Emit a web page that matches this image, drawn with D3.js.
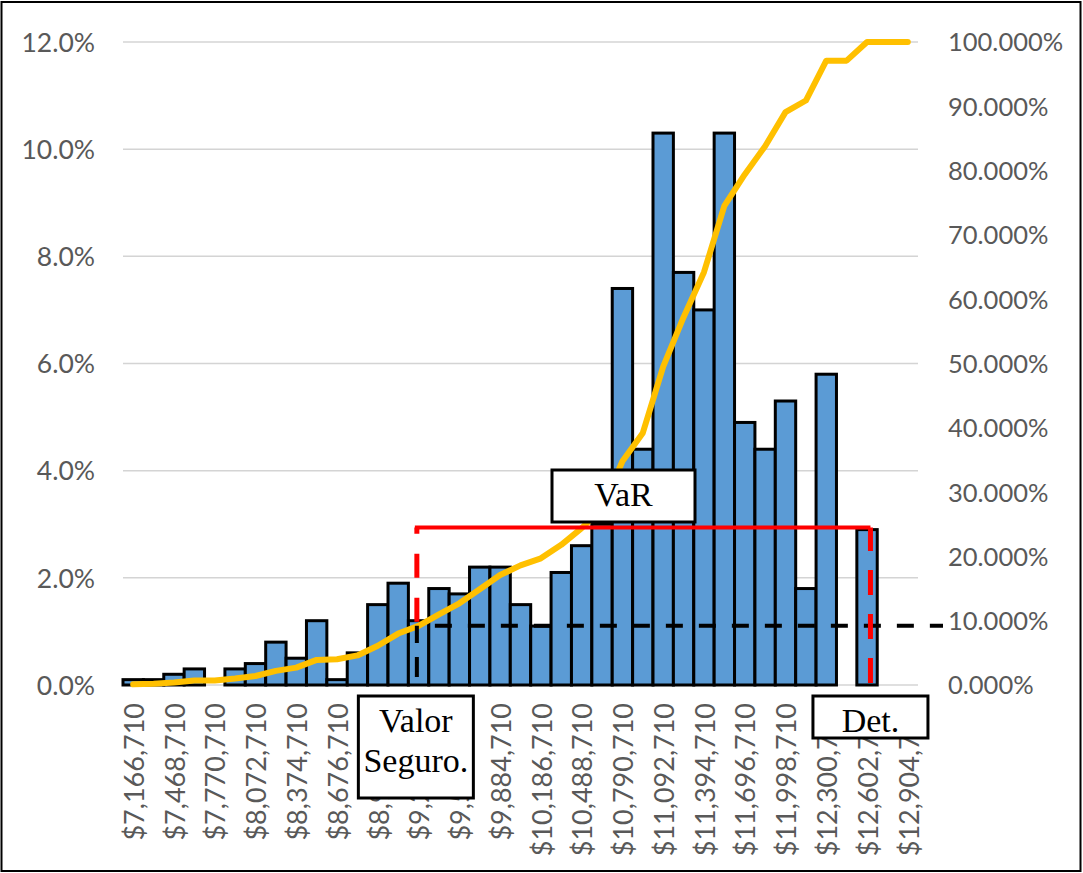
<!DOCTYPE html>
<html>
<head>
<meta charset="utf-8">
<script src="https://cdn.jsdelivr.net/npm/d3@7"></script>
<style>
  html, body { margin: 0; padding: 0; background: #fff; }
  svg { display: block; }
  .tick text { fill: #595959; font-family: Lato, "Open Sans", sans-serif; }
  .box-text { font-family: "Liberation Serif", "Times New Roman", serif; fill: #000; }
</style>
</head>
<body>
<svg id="chart" width="1083" height="873"></svg>
<script>
// Bin values (lower bounds, USD)
const categories = [
  7166710, 7317710, 7468710, 7619710, 7770710, 7921710, 8072710, 8223710,
  8374710, 8525710, 8676710, 8827710, 8978710, 9129710, 9280710, 9431710,
  9582710, 9733710, 9884710, 10035710, 10186710, 10337710, 10488710, 10639710,
  10790710, 10941710, 11092710, 11243710, 11394710, 11545710, 11696710, 11847710,
  11998710, 12149710, 12300710, 12451710, 12602710, 12753710, 12904710
];

// Relative frequency per bin (%)
const frequency = [
  0.1, 0.1, 0.2, 0.3, 0, 0.3, 0.4, 0.8,
  0.5, 1.2, 0.1, 0.6, 1.5, 1.9, 1.2, 1.8,
  1.7, 2.2, 2.2, 1.5, 1.1, 2.1, 2.6, 3.0,
  7.4, 4.4, 10.3, 7.7, 7.0, 10.3, 4.9, 4.4,
  5.3, 1.8, 5.8, 0, 2.9, 0, 0
];

// Cumulative frequency (%)
const cumulative = [
  0.1, 0.2, 0.4, 0.7, 0.7, 1.0, 1.4, 2.2,
  2.7, 3.9, 4.0, 4.6, 6.1, 8.0, 9.2, 11.0,
  12.7, 14.9, 17.1, 18.6, 19.7, 21.8, 24.4, 27.4,
  34.8, 39.2, 49.5, 57.2, 64.2, 74.5, 79.4, 83.8,
  89.1, 90.9, 97.1, 97.1, 100, 100, 100
];

// Axis ticks
const leftTicks = [0, 2, 4, 6, 8, 10, 12];
const rightTicks = [0, 10, 20, 30, 40, 50, 60, 70, 80, 90, 100];
const xTickValues = categories.filter((d, i) => i % 2 === 0);

// Reference markers
const valorSeguro = 9268000;      // insured value
const deterministic = 12628000;   // deterministic value
const varLevel = 2.94;            // VaR level (left axis, %)
const cumAtValorSeguro = 9.2;     // cumulative % at insured value (right axis)

const svg = d3.select("#chart");
const W = 1083, H = 873;
const plot = { left: 123, right: 918, top: 42, bottom: 685 };
const step = categories[1] - categories[0];

const x = d3.scaleBand().domain(categories).range([plot.left, plot.right]).padding(0);
const xVal = d3.scaleLinear()
  .domain([categories[0] - step / 2, categories[categories.length - 1] + step / 2])
  .range([plot.left, plot.right]);
const yL = d3.scaleLinear().domain([0, 12]).range([plot.bottom, plot.top]);
const yR = d3.scaleLinear().domain([0, 100]).range([plot.bottom, plot.top]);

// Outer frame
svg.append("rect")
  .attr("x", 1.5).attr("y", 2).attr("width", W - 4).attr("height", H - 4)
  .attr("fill", "#fff").attr("stroke", "#000").attr("stroke-width", 2);

// Gridlines
svg.append("g")
  .selectAll("line")
  .data(leftTicks)
  .join("line")
  .attr("x1", plot.left).attr("x2", plot.right)
  .attr("y1", d => yL(d)).attr("y2", d => yL(d))
  .attr("stroke", "#d4d4d4").attr("stroke-width", 1.5);

// Left axis
const leftAxis = svg.append("g")
  .attr("transform", `translate(${plot.left - 28},0)`)
  .call(d3.axisLeft(yL).tickValues(leftTicks).tickSize(0).tickPadding(0)
    .tickFormat(d => d.toFixed(1) + "%"));
leftAxis.select(".domain").remove();
leftAxis.selectAll("text").attr("font-size", 26.5).attr("dy", "0.35em");

// Right axis
const rightAxis = svg.append("g")
  .attr("transform", `translate(${plot.right + 30},0)`)
  .call(d3.axisRight(yR).tickValues(rightTicks).tickSize(0).tickPadding(0)
    .tickFormat(d => d.toFixed(3) + "%"));
rightAxis.select(".domain").remove();
rightAxis.selectAll("text").attr("font-size", 25.5).attr("dy", "0.35em");

// Bottom axis, rotated labels
const money = d3.format("$,");
const bottomAxis = svg.append("g")
  .attr("transform", `translate(0,${plot.bottom})`)
  .call(d3.axisBottom(x).tickValues(xTickValues).tickSize(0).tickPadding(0)
    .tickFormat(d => money(d)));
bottomAxis.select(".domain").remove();
bottomAxis.selectAll("text")
  .attr("font-size", 27)
  .attr("text-anchor", "end")
  .attr("transform", "translate(1,18) rotate(-90)")
  .attr("x", 0).attr("y", 0).attr("dy", "0.36em");

// Histogram bars
svg.append("g")
  .selectAll("rect")
  .data(categories.map((c, i) => ({ c, v: frequency[i] })).filter(d => d.v > 0))
  .join("rect")
  .attr("x", d => x(d.c))
  .attr("width", x.bandwidth())
  .attr("y", d => yL(d.v))
  .attr("height", d => yL(0) - yL(d.v))
  .attr("fill", "#5B9BD5")
  .attr("stroke", "#000")
  .attr("stroke-width", 3);

// Cumulative line
const line = d3.line()
  .x((d, i) => x(categories[i]) + x.bandwidth() / 2)
  .y(d => yR(d));
svg.append("path")
  .datum(cumulative)
  .attr("d", line)
  .attr("fill", "none")
  .attr("stroke", "#FFC000")
  .attr("stroke-width", 6)
  .attr("stroke-linejoin", "round")
  .attr("stroke-linecap", "round");

// Reference markers
const xVS = xVal(valorSeguro);
const xDet = xVal(deterministic);
const g = svg.append("g");

// cumulative level at insured value
g.append("line")
  .attr("x1", xVS + 18).attr("x2", plot.right + 25)
  .attr("y1", yR(cumAtValorSeguro)).attr("y2", yR(cumAtValorSeguro))
  .attr("stroke", "#000").attr("stroke-width", 4)
  .attr("stroke-dasharray", "17,16");
g.append("line")
  .attr("x1", xVS).attr("x2", xVS)
  .attr("y1", yL(0) - 8).attr("y2", yR(cumAtValorSeguro))
  .attr("stroke", "#000").attr("stroke-width", 4)
  .attr("stroke-dasharray", "20,14");
g.append("line")
  .attr("x1", xVS).attr("x2", xVS)
  .attr("y1", yR(cumAtValorSeguro) - 4).attr("y2", yL(varLevel))
  .attr("stroke", "#FF0000").attr("stroke-width", 5)
  .attr("stroke-dasharray", "24,20");
g.append("line")
  .attr("x1", xVS - 2).attr("x2", xDet)
  .attr("y1", yL(varLevel)).attr("y2", yL(varLevel))
  .attr("stroke", "#FF0000").attr("stroke-width", 4);
g.append("line")
  .attr("x1", xDet).attr("x2", xDet)
  .attr("y1", yL(0) - 2).attr("y2", yL(varLevel))
  .attr("stroke", "#FF0000").attr("stroke-width", 5)
  .attr("stroke-dasharray", "25,19");

// Annotation boxes
function box(cx, y, w, h, lines, baseline0, lineGap) {
  const bg = svg.append("g");
  bg.append("rect")
    .attr("x", cx - w / 2).attr("y", y).attr("width", w).attr("height", h)
    .attr("fill", "#fff").attr("stroke", "#000").attr("stroke-width", 3);
  lines.forEach((t, i) => {
    bg.append("text")
      .attr("class", "box-text")
      .attr("x", cx).attr("y", y + baseline0 + i * lineGap)
      .attr("text-anchor", "middle")
      .attr("font-size", 34)
      .text(t);
  });
}
box(623.5, 470, 143, 52, ["VaR"], 36, 0);
box(xVS - 1, 696, 115, 102, ["Valor", "Seguro."], 36, 40);
box(xDet, 696, 115, 42, ["Det."], 36, 0);
</script>
</body>
</html>
